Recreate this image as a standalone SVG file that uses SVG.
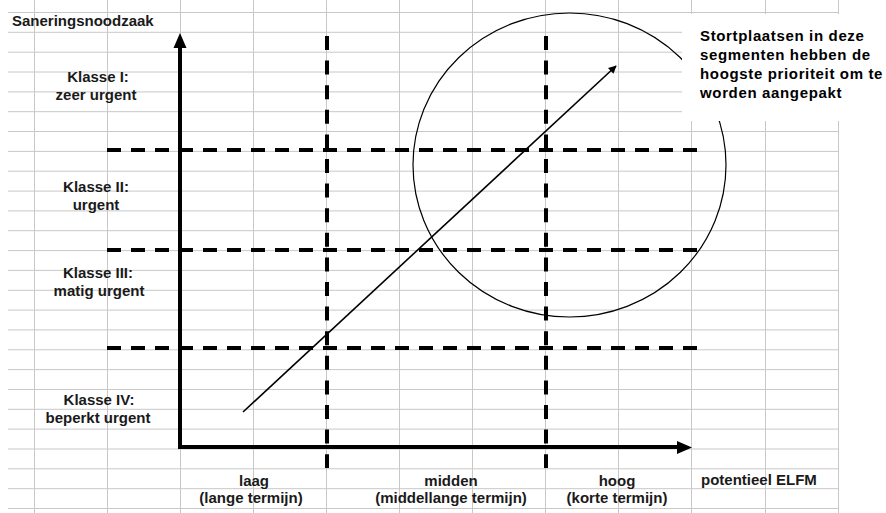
<svg xmlns="http://www.w3.org/2000/svg" width="886" height="513" viewBox="0 0 886 513">
<style>
.grid{stroke:#c8c8c8;stroke-width:1;fill:none}
.axis{stroke:#000;stroke-width:4;fill:none}
.dash{stroke:#000;stroke-width:4;fill:none;stroke-dasharray:14 10}
.dashv{stroke:#000;stroke-width:4;fill:none;stroke-dasharray:14 10.6}
.lbl{font-family:"Liberation Sans",Arial,sans-serif;font-weight:bold;font-size:15px;fill:#1a1a1a}
.mid{text-anchor:middle}
.note{font-family:"Liberation Sans",Arial,sans-serif;font-weight:bold;font-size:15px;fill:#000;letter-spacing:0.65px}
</style>
<defs>
<marker id="ah" viewBox="0 0 10 10" refX="9" refY="5" markerWidth="10" markerHeight="8" markerUnits="userSpaceOnUse" orient="auto">
<path d="M0,0 L10,5 L0,10 z" fill="#000"/>
</marker>
</defs>
<rect width="886" height="513" fill="#fff"/>
<g id="grid">
<path class="grid" d="M34.5,0V513M107.5,0V513M180.5,0V513M253.5,0V513M326.5,0V513M399.5,0V513M472.5,0V513M545.5,0V513M618.5,0V513M691.5,0V513M765.5,0V513M838.5,0V513"/>
<path class="grid" d="M8,12.5H838M8,32.3H838M8,52.2H838M8,72H838M8,91.9H838M8,111.7H838M8,131.5H838M8,151.4H838M8,171.2H838M8,191.1H838M8,210.9H838M8,230.7H838M8,250.6H838M8,270.4H838M8,290.3H838M8,310.1H838M8,329.9H838M8,349.8H838M8,369.6H838M8,389.5H838M8,409.3H838M8,429.1H838M8,449H838M8,468.8H838M8,488.7H838M8,508.5H838"/>
</g>
<g id="circle">
<ellipse cx="569.5" cy="165" rx="156.5" ry="152" fill="none" stroke="#000" stroke-width="1.2"/>
</g>
<g id="note">
<rect x="682" y="14" width="204" height="107" fill="#fff"/>
<text class="note" x="700" y="41">Stortplaatsen in deze</text>
<text class="note" x="700" y="60">segmenten hebben de</text>
<text class="note" x="700" y="79">hoogste prioriteit om te</text>
<text class="note" x="700" y="98">worden aangepakt</text>
</g>
<g id="connectors">
<path class="dash" d="M107,150H697"/>
<path class="dash" d="M107,250H697"/>
<path class="dash" d="M107,348H697"/>
<path class="dashv" d="M327,36V468"/>
<path class="dashv" d="M546,36V468"/>
<path class="axis" d="M180,447V46"/>
<path d="M173.5,48L180,33L186.5,48z" fill="#000"/>
<path class="axis" d="M178,447H679"/>
<path d="M677,441L692,447.5L677,454z" fill="#000"/>
<path d="M243,412L616,66" stroke="#000" stroke-width="1.6" fill="none" marker-end="url(#ah)"/>
</g>
<g id="ylabels">
<text class="lbl" x="12" y="26">Saneringsnoodzaak</text>
<text class="lbl mid" x="98" y="82">Klasse I:</text>
<text class="lbl mid" x="96" y="100">zeer urgent</text>
<text class="lbl mid" x="96" y="192">Klasse II:</text>
<text class="lbl mid" x="96" y="210">urgent</text>
<text class="lbl mid" x="98" y="278">Klasse III:</text>
<text class="lbl mid" x="99" y="296">matig urgent</text>
<text class="lbl mid" x="99" y="405">Klasse IV:</text>
<text class="lbl mid" x="98" y="423">beperkt urgent</text>
</g>
<g id="xlabels">
<text class="lbl mid" x="254" y="486">laag</text>
<text class="lbl mid" x="251" y="503">(lange termijn)</text>
<text class="lbl mid" x="451" y="486">midden</text>
<text class="lbl mid" x="451" y="503">(middellange termijn)</text>
<text class="lbl mid" x="617" y="486">hoog</text>
<text class="lbl mid" x="617" y="503">(korte termijn)</text>
<text class="lbl" x="701" y="485">potentieel ELFM</text>
</g>
</svg>
